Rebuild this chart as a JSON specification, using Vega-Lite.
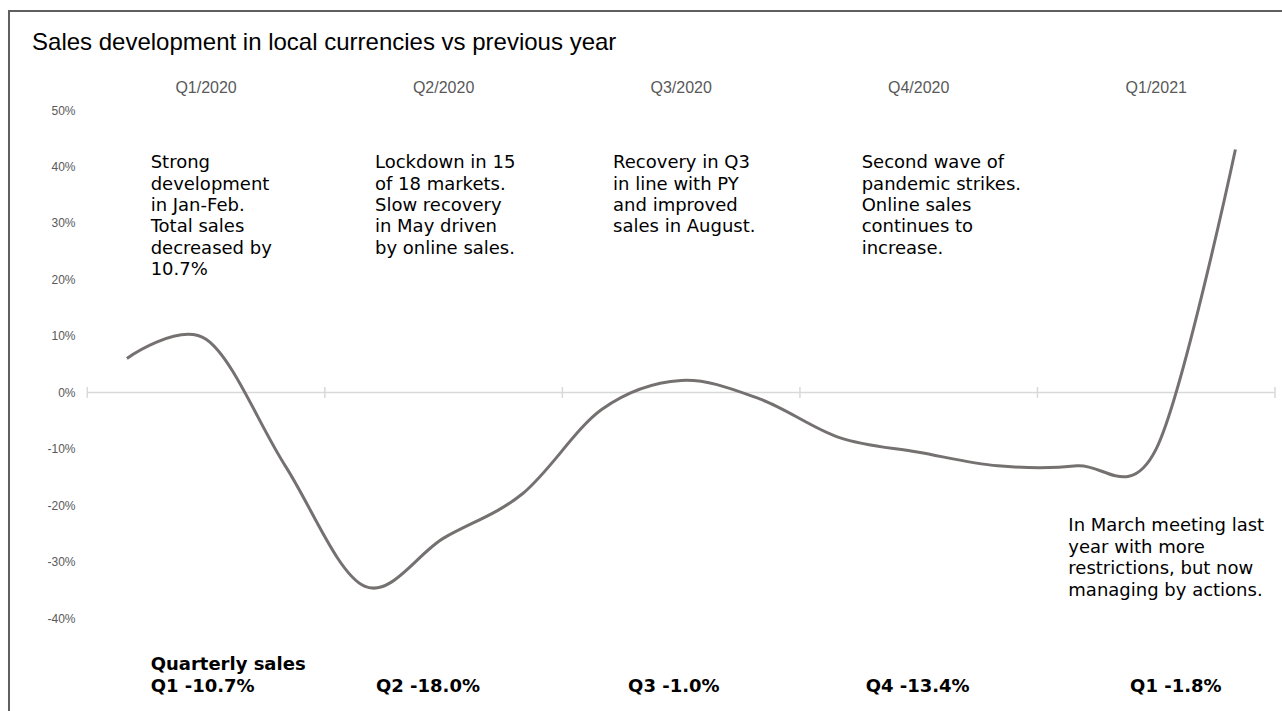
{
  "$schema": "https://vega.github.io/schema/vega-lite/v6.json",
  "width": 1187.7,
  "height": 564.8,
  "autosize": "none",
  "padding": {"left": 87.3, "top": 81.76, "right": 7, "bottom": 64.44},
  "background": "white",
  "config": {"view": {"stroke": null}},
  "datasets": {
    "sales": [
      {"month": "Jan 2020", "t": 0.5, "growth": 0.06},
      {"month": "Feb 2020", "t": 1.5, "growth": 0.094},
      {"month": "Mar 2020", "t": 2.5, "growth": -0.13},
      {"month": "Apr 2020", "t": 3.5, "growth": -0.343},
      {"month": "May 2020", "t": 4.5, "growth": -0.258},
      {"month": "Jun 2020", "t": 5.5, "growth": -0.179},
      {"month": "Jul 2020", "t": 6.5, "growth": -0.03},
      {"month": "Aug 2020", "t": 7.5, "growth": 0.021},
      {"month": "Sep 2020", "t": 8.5, "growth": -0.012},
      {"month": "Oct 2020", "t": 9.5, "growth": -0.08},
      {"month": "Nov 2020", "t": 10.5, "growth": -0.106},
      {"month": "Dec 2020", "t": 11.5, "growth": -0.13},
      {"month": "Jan 2021", "t": 12.5, "growth": -0.13},
      {"month": "Feb 2021", "t": 13.5, "growth": -0.1},
      {"month": "Mar 2021", "t": 14.5, "growth": 0.43}
    ],
    "quarters": [
      {"quarter": "Q1/2020", "mid": 1.5, "noteX": 0.8, "totalX": 0.8, "total": "Q1 -10.7%", "note": ["Strong", "development", "in Jan-Feb.", "Total sales", "decreased by", "10.7%"]},
      {"quarter": "Q2/2020", "mid": 4.5, "noteX": 3.633, "totalX": 3.646, "total": "Q2 -18.0%", "note": ["Lockdown in 15", "of 18 markets.", "Slow recovery", "in May driven", "by online sales."]},
      {"quarter": "Q3/2020", "mid": 7.5, "noteX": 6.64, "totalX": 6.83, "total": "Q3 -1.0%", "note": ["Recovery in Q3", "in line with PY", "and improved", "sales in August."]},
      {"quarter": "Q4/2020", "mid": 10.5, "noteX": 9.78, "totalX": 9.83, "total": "Q4 -13.4%", "note": ["Second wave of", "pandemic strikes.", "Online sales", "continues to", "increase."]},
      {"quarter": "Q1/2021", "mid": 13.5, "noteX": 12.39, "totalX": 13.17, "total": "Q1 -1.8%", "note": []}
    ],
    "bounds": [{"b": 0}, {"b": 3}, {"b": 6}, {"b": 9}, {"b": 12}, {"b": 15}]
  },
  "layer": [
    {
      "data": {"values": [{}]},
      "mark": {"type": "rect", "fill": null, "stroke": "#5f5f5f", "strokeWidth": 2},
      "encoding": {
        "x": {"datum": -0.989, "type": "quantitative", "scale": {"domain": [0, 15], "nice": false, "zero": false}, "axis": null},
        "x2": {"datum": 17},
        "y": {"datum": 0.6753, "type": "quantitative", "scale": {"domain": [-0.45, 0.55], "nice": false, "zero": false}},
        "y2": {"datum": -1}
      }
    },
    {
      "data": {"values": [{}]},
      "mark": {"type": "rule", "color": "#d9d9d9", "strokeWidth": 1.5},
      "encoding": {"y": {"datum": 0, "type": "quantitative"}}
    },
    {
      "data": {"name": "bounds"},
      "mark": {"type": "rule", "color": "#d9d9d9", "strokeWidth": 1.5},
      "encoding": {
        "x": {"field": "b", "type": "quantitative", "axis": null},
        "y": {"datum": -0.0097, "type": "quantitative"},
        "y2": {"datum": 0.0097}
      }
    },
    {
      "data": {"name": "sales"},
      "mark": {"type": "line", "interpolate": "cardinal", "color": "#767171", "strokeWidth": 3},
      "encoding": {
        "x": {"field": "t", "type": "quantitative", "axis": null},
        "y": {
          "field": "growth", "type": "quantitative",
          "axis": {
            "values": [-0.4, -0.3, -0.2, -0.1, 0, 0.1, 0.2, 0.3, 0.4, 0.5],
            "format": ".0%", "labelExpr": "replace(datum.label, '\u2212', '-')",
            "title": null, "domain": false, "ticks": false, "grid": false,
            "labelFont": "Liberation Sans", "labelFontSize": 12, "labelColor": "#595959",
            "labelPadding": 12.3
          }
        }
      }
    },
    {
      "data": {"name": "quarters"},
      "mark": {"type": "text", "font": "Liberation Sans", "fontSize": 16, "color": "#595959", "align": "center", "baseline": "alphabetic"},
      "encoding": {
        "x": {"field": "mid", "type": "quantitative"},
        "y": {"datum": 0.5306, "type": "quantitative"},
        "text": {"field": "quarter"}
      }
    },
    {
      "data": {"name": "quarters"},
      "mark": {"type": "text", "font": "DejaVu Sans", "fontSize": 18, "color": "#000000", "align": "left", "baseline": "alphabetic", "lineHeight": 21.4},
      "encoding": {
        "x": {"field": "noteX", "type": "quantitative"},
        "y": {"datum": 0.3968, "type": "quantitative"},
        "text": {"field": "note"}
      }
    },
    {
      "data": {"values": [{"x": 12.39, "note": ["In March meeting last", "year with more", "restrictions, but now", "managing by actions."]}]},
      "mark": {"type": "text", "font": "DejaVu Sans", "fontSize": 18, "color": "#000000", "align": "left", "baseline": "alphabetic", "lineHeight": 21.7},
      "encoding": {
        "x": {"field": "x", "type": "quantitative"},
        "y": {"datum": -0.2454, "type": "quantitative"},
        "text": {"field": "note"}
      }
    },
    {
      "data": {"name": "quarters"},
      "mark": {"type": "text", "font": "DejaVu Sans", "fontSize": 18, "fontWeight": "bold", "color": "#000000", "align": "left", "baseline": "alphabetic"},
      "encoding": {
        "x": {"field": "totalX", "type": "quantitative"},
        "y": {"datum": -0.5299, "type": "quantitative"},
        "text": {"field": "total"}
      }
    },
    {
      "data": {"values": [{}]},
      "mark": {"type": "text", "font": "DejaVu Sans", "fontSize": 18, "fontWeight": "bold", "color": "#000000", "align": "left", "baseline": "alphabetic"},
      "encoding": {
        "x": {"datum": 0.8, "type": "quantitative"},
        "y": {"datum": -0.4915, "type": "quantitative"},
        "text": {"value": "Quarterly sales"}
      }
    },
    {
      "data": {"values": [{}]},
      "mark": {"type": "text", "font": "Liberation Sans", "fontSize": 24, "color": "#000000", "align": "left", "baseline": "alphabetic"},
      "encoding": {
        "x": {"datum": -0.698, "type": "quantitative"},
        "y": {"datum": 0.6062, "type": "quantitative"},
        "text": {"value": "Sales development in local currencies vs previous year"}
      }
    }
  ]
}
